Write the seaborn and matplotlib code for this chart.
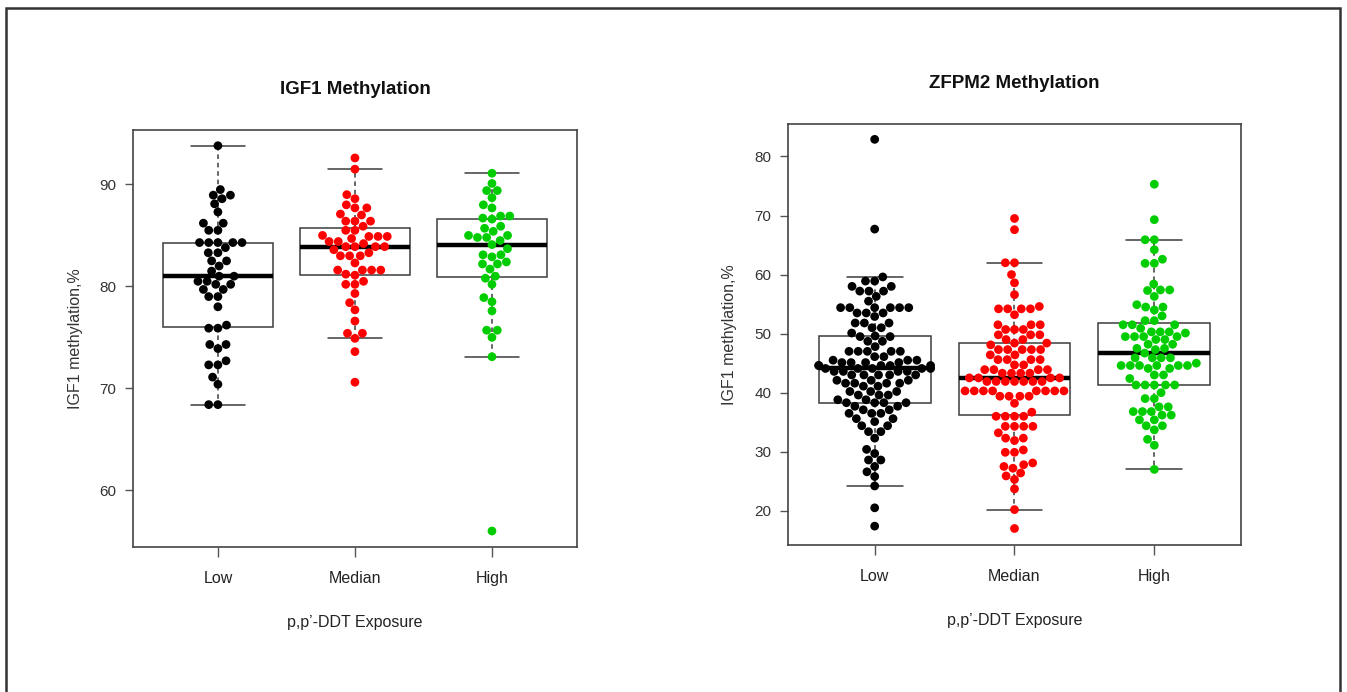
import pandas as pd
import seaborn as sns
import matplotlib.pyplot as plt
from matplotlib.patches import Rectangle

# 先设置样式, 再覆盖字体
sns.set_style("ticks")
plt.rcParams['font.family'] = ['Liberation Sans', 'DejaVu Sans']
NARROW = ['Liberation Sans Narrow', 'Liberation Sans', 'DejaVu Sans']

groups = ["Low", "Median", "High"]
colors = ["#000000", "#FF0000", "#00CD00"]

# IGF1 methylation (%)
igf1_low = [93.8, 89.5, 88.95, 88.95, 88.6, 88.1, 87.3, 86.2, 86.2, 85.5, 85.5,
            84.3, 84.3, 84.3, 84.3, 84.3, 83.8, 83.3, 83.3, 82.5, 82.5, 82.0,
            81.5, 81.0, 81.0, 80.5, 80.5, 80.2, 80.2, 79.7, 79.7, 79.0, 79.0,
            78.0, 76.2, 75.9, 75.9, 74.3, 74.3, 73.9, 72.7, 72.3, 72.3, 71.1,
            70.4, 68.4, 68.4]
igf1_med = [92.6, 91.5, 89.0, 88.6, 88.0, 87.7, 87.7, 87.1, 87.0, 86.4, 86.4,
            86.4, 85.9, 85.5, 85.5, 85.0, 84.9, 84.9, 84.9, 84.7, 84.4, 84.4,
            84.2, 83.9, 83.9, 83.9, 83.9, 83.6, 83.3, 83.0, 83.0, 83.0, 82.3,
            81.6, 81.6, 81.6, 81.6, 81.2, 81.1, 80.5, 80.2, 80.2, 79.3, 78.4,
            77.7, 76.6, 75.4, 75.4, 74.9, 73.6, 70.6]
igf1_high = [91.1, 90.1, 89.4, 89.4, 88.7, 88.0, 87.7, 86.9, 86.9, 86.7, 86.6,
             85.9, 85.7, 85.4, 85.0, 85.0, 84.8, 84.8, 84.5, 84.1, 83.7, 83.1,
             83.1, 82.9, 82.4, 82.2, 82.2, 81.7, 81.0, 80.8, 80.2, 78.9, 78.5,
             77.6, 75.7, 75.7, 75.0, 73.1, 56.0]

# ZFPM2 methylation (%)
zfpm2_low = [82.9, 67.7, 59.6, 58.9, 58.9, 58.0, 58.0, 57.2, 57.2, 57.2, 56.3,
             55.5, 54.4, 54.4, 54.4, 54.4, 54.4, 54.4, 53.5, 53.5, 53.5, 52.9,
             51.8, 51.8, 51.8, 51.0, 51.0, 50.1, 49.6, 49.5, 49.5, 48.7, 48.7,
             47.8, 47.0, 47.0, 47.0, 47.0, 47.0, 46.1, 46.1, 45.5, 45.5, 45.5,
             45.1, 45.1, 45.1, 45.1, 44.6, 44.6, 44.6, 44.6, 44.6, 44.1, 44.1,
             44.1, 44.1, 44.1, 43.6, 43.6, 43.6, 43.6, 43.0, 43.0, 43.0, 43.0,
             43.0, 42.1, 42.1, 42.1, 41.6, 41.6, 41.6, 41.6, 41.1, 41.1, 40.2,
             40.2, 40.2, 39.6, 39.6, 39.6, 38.8, 38.8, 38.3, 38.3, 38.3, 38.3,
             37.7, 37.7, 37.1, 37.1, 36.5, 36.5, 36.5, 35.6, 35.6, 35.1, 34.4,
             34.4, 33.4, 33.4, 32.3, 30.4, 29.7, 28.6, 28.6, 27.5, 26.6, 25.8,
             24.2, 20.5, 17.4]
zfpm2_med = [69.5, 67.6, 62.0, 62.0, 60.0, 58.6, 56.6, 54.6, 54.2, 54.2, 54.2,
             54.2, 53.2, 51.5, 51.5, 51.5, 50.7, 50.7, 50.7, 49.8, 49.8, 49.8,
             49.0, 49.0, 48.4, 48.4, 48.1, 47.3, 47.3, 47.3, 47.3, 47.3, 46.4,
             46.4, 45.6, 45.6, 45.6, 45.6, 44.7, 44.7, 43.9, 43.9, 43.9, 43.9,
             43.3, 43.3, 43.3, 43.3, 42.5, 42.5, 42.5, 42.5, 41.9, 41.9, 41.9,
             41.9, 41.9, 41.9, 41.9, 40.3, 40.3, 40.3, 40.3, 40.3, 40.3, 40.3,
             40.3, 39.4, 39.4, 39.4, 39.4, 38.2, 36.7, 36.0, 36.0, 36.0, 36.0,
             34.3, 34.3, 34.3, 34.3, 33.2, 32.3, 32.3, 31.9, 30.3, 29.9, 29.9,
             28.1, 27.8, 27.5, 27.2, 26.4, 25.9, 25.3, 23.7, 20.2, 17.0]
zfpm2_high = [75.3, 69.3, 65.9, 65.9, 64.2, 62.6, 61.9, 61.9, 58.4, 57.4, 57.4,
              57.3, 56.3, 54.9, 54.5, 54.5, 54.0, 53.0, 52.2, 52.2, 51.5, 51.5,
              51.5, 50.9, 50.3, 50.3, 50.3, 50.1, 49.5, 49.5, 49.5, 49.5, 49.0,
              49.0, 48.2, 48.2, 47.5, 47.5, 47.3, 46.7, 45.9, 45.9, 45.9, 45.9,
              45.0, 44.6, 44.6, 44.6, 44.6, 44.6, 44.6, 44.1, 44.1, 43.0, 43.0,
              42.4, 41.3, 41.3, 41.3, 41.3, 41.3, 40.0, 39.0, 39.0, 37.6, 37.6,
              36.8, 36.8, 36.8, 36.2, 36.2, 35.4, 35.4, 34.4, 34.4, 33.7, 32.1,
              31.1, 27.0]


def to_long(low, med, high):
    """三组数值整理为长表"""
    rows = []
    for g, vals in zip(groups, [low, med, high]):
        for v in vals:
            rows.append({"exposure": g, "value": v})
    return pd.DataFrame(rows)


def draw(ax, df, title, ylim, yticks):
    sns.boxplot(data=df, x="exposure", y="value", order=groups, width=0.8,
                color="white", linecolor="#3c3c3c", linewidth=1.1,
                showfliers=False, whiskerprops={"linestyle": (0, (3, 2.5))},
                medianprops={"color": "black", "linewidth": 3.2}, ax=ax)
    sns.swarmplot(data=df, x="exposure", y="value", order=groups,
                  hue="exposure", hue_order=groups, palette=colors,
                  size=6.3, legend=False, zorder=3, ax=ax)
    ax.set_xlim(-0.62, 2.62)
    ax.set_ylim(*ylim)
    ax.set_yticks(yticks)
    ax.set_xticks(range(3))
    ax.set_xticklabels(groups, family=NARROW, fontsize=11.5, color="#222")
    ax.set_title(title, family=NARROW, fontweight="bold", fontsize=13.5,
                 pad=26, color="#111")
    ax.set_xlabel("p,p\u2019-DDT Exposure", family=NARROW, fontsize=11.5,
                  labelpad=21, color="#222")
    ax.set_ylabel("IGF1 methylation,%", fontsize=11.5, color="#333")
    ax.yaxis.set_label_coords(-0.112, 0.5)
    ax.tick_params(axis="x", length=7, width=1, color="#555", pad=10)
    ax.tick_params(axis="y", length=6, width=1, color="#555", pad=6,
                   labelsize=11, labelcolor="#333")
    for s in ax.spines.values():
        s.set_color("#444")
        s.set_linewidth(1.2)


fig = plt.figure(figsize=(13.47, 6.92), dpi=100)
ax1 = fig.add_axes([0.0987, 0.2095, 0.3296, 0.6026])
ax2 = fig.add_axes([0.585, 0.2124, 0.3363, 0.6084])

draw(ax1, to_long(igf1_low, igf1_med, igf1_high), "IGF1 Methylation",
     (54.43, 95.34), [60, 70, 80, 90])
draw(ax2, to_long(zfpm2_low, zfpm2_med, zfpm2_high), "ZFPM2 Methylation",
     (14.2, 85.5), [20, 30, 40, 50, 60, 70, 80])

# 外框
fig.add_artist(Rectangle((0.0045, -0.1), 0.9905, 1.088, transform=fig.transFigure,
                         fill=False, edgecolor="#333", linewidth=1.8))

fig.savefig("out.png", dpi=100)
